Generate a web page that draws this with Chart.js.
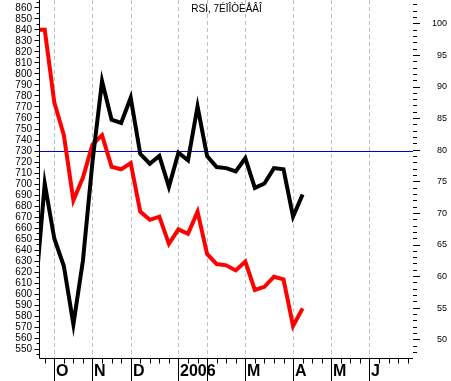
<!DOCTYPE html>
<html>
<head>
<meta charset="utf-8">
<script src="https://cdn.jsdelivr.net/npm/chart.js@4.4.1/dist/chart.umd.min.js"></script>
<style>
  html, body { margin: 0; padding: 0; background: #fff; }
</style>
</head>
<body>
<canvas id="rsiChart" width="451" height="381"></canvas>
<script>
const titleText = "RSI, 7ÉÏÎÒÈÅÂÎ";

// weekly bars, week 0 = first week of October
const weeks = [-2, -1, 0, 1, 2, 3, 4, 5, 6, 7, 8, 9, 10, 11, 12, 13, 14, 15, 16, 17, 18, 19, 20, 21, 22, 23, 24, 25, 26];
const priceValues = [598, 700, 650, 625, 572, 630, 720, 793, 758, 755, 778, 727, 718, 725, 697, 728, 721, 770, 725, 715, 714, 711, 723, 696, 700, 714, 713, 670, 690];
const rsiValues = [99, 99, 87.5, 82.3, 72, 75.6, 80.8, 82.3, 77.3, 76.9, 77.9, 70.2, 68.9, 69.4, 65.1, 67.4, 66.7, 70.2, 63.5, 61.9, 61.7, 60.9, 62.3, 57.8, 58.3, 59.9, 59.5, 52.1, 54.9];

const leftTickLabels = [550, 560, 570, 580, 590, 600, 610, 620, 630, 640, 650, 660, 670, 680, 690, 700, 710, 720, 730, 740, 750, 760, 770, 780, 790, 800, 810, 820, 830, 840, 850, 860];
const rightTickLabels = [50, 55, 60, 65, 70, 75, 80, 85, 90, 95, 100];
const monthStarts = [0, 4, 8, 13, 16, 20, 25, 29, 33];
const monthLabels = ["O", "N", "D", "2006", "", "M", "A", "M", "J"];
const refLevel = 730;

const axesPlugin = {
  id: "axesPlugin",
  beforeDatasetsDraw(chart) {
    const { ctx, chartArea: a, scales: { x, yL } } = chart;
    ctx.save();
    ctx.lineWidth = 1;
    ctx.strokeStyle = "#c0c0c0";
    ctx.setLineDash([4, 3]);
    monthStarts.forEach((m) => {
      const px = Math.round(x.getPixelForValue(m)) + 0.5;
      ctx.beginPath();
      ctx.moveTo(px, a.top);
      ctx.lineTo(px, a.bottom);
      ctx.stroke();
    });
    ctx.setLineDash([]);
    const ry = Math.round(yL.getPixelForValue(refLevel)) + 0.5;
    ctx.strokeStyle = "#0000cc";
    ctx.beginPath();
    ctx.moveTo(a.left, ry);
    ctx.lineTo(a.right, ry);
    ctx.stroke();
    ctx.restore();
  },
  afterDraw(chart) {
    const { ctx, chartArea: a, scales: { x, yL, yR } } = chart;
    const axisX = a.left - 0.5;
    const axisY = a.bottom + 0.5;
    ctx.save();
    ctx.lineWidth = 1;
    ctx.strokeStyle = "#000";
    ctx.fillStyle = "#000";

    // axis lines
    ctx.beginPath();
    ctx.moveTo(axisX, a.top);
    ctx.lineTo(axisX, axisY);
    ctx.lineTo(a.right, axisY);
    ctx.stroke();

    // left ticks + labels
    ctx.font = '10px "Liberation Sans", Arial, sans-serif';
    ctx.textAlign = "right";
    ctx.textBaseline = "middle";
    leftTickLabels.forEach((v) => {
      [v, v + 5].forEach((t) => {
        if (t > yL.max) return;
        const py = Math.round(yL.getPixelForValue(t)) + 0.5;
        const len = t % 10 === 0 ? 5 : 3;
        ctx.beginPath();
        ctx.moveTo(axisX - len, py);
        ctx.lineTo(axisX, py);
        ctx.stroke();
      });
      ctx.fillText(String(v), 32, yL.getPixelForValue(v) + 0.5);
    });
    const py545 = Math.round(yL.getPixelForValue(545)) + 0.5;
    ctx.beginPath();
    ctx.moveTo(axisX - 3, py545);
    ctx.lineTo(axisX, py545);
    ctx.stroke();

    // right ticks + labels
    for (let r = Math.ceil(yR.min); r <= Math.floor(yR.max); r++) {
      const py = Math.round(yR.getPixelForValue(r)) + 0.5;
      const len = r % 5 === 0 ? 7 : 4;
      ctx.beginPath();
      ctx.moveTo(a.right, py);
      ctx.lineTo(a.right + len, py);
      ctx.stroke();
    }
    ctx.font = '9px "Liberation Sans", Arial, sans-serif';
    rightTickLabels.forEach((r) => {
      ctx.fillText(String(r), 447, yR.getPixelForValue(r) + 0.5);
    });

    // week ticks
    for (let w = Math.ceil(x.min); w <= Math.floor(x.max); w++) {
      const px = Math.round(x.getPixelForValue(w)) + 0.5;
      ctx.beginPath();
      ctx.moveTo(px, axisY);
      ctx.lineTo(px, axisY + 5);
      ctx.stroke();
    }

    // month dividers + labels
    ctx.font = 'bold 16px "Liberation Sans", Arial, sans-serif';
    ctx.textAlign = "left";
    ctx.textBaseline = "alphabetic";
    monthStarts.forEach((m, i) => {
      const px = Math.round(x.getPixelForValue(m)) + 0.5;
      ctx.beginPath();
      ctx.moveTo(px, axisY);
      ctx.lineTo(px, chart.height);
      ctx.stroke();
      if (monthLabels[i]) ctx.fillText(monthLabels[i], px + 1.5, 376);
    });

    // title
    ctx.font = '10px "Liberation Sans", Arial, sans-serif';
    ctx.textAlign = "center";
    ctx.fillText(titleText, (a.left + a.right) / 2, 12);
    ctx.restore();
  },
};

const ctx = document.getElementById("rsiChart").getContext("2d");
new Chart(ctx, {
  type: "line",
  data: {
    datasets: [
      {
        label: "Price",
        data: weeks.map((w, i) => ({ x: w, y: priceValues[i] })),
        yAxisID: "yL",
        borderColor: "#000000",
        borderWidth: 4,
        pointRadius: 0,
        tension: 0,
        clip: 1,
        order: 0,
      },
      {
        label: "RSI",
        data: weeks.map((w, i) => ({ x: w, y: rsiValues[i] })),
        yAxisID: "yR",
        borderColor: "#ff0000",
        borderWidth: 4,
        pointRadius: 0,
        tension: 0,
        clip: 1,
        order: 1,
      },
    ],
  },
  options: {
    responsive: false,
    animation: false,
    devicePixelRatio: 1,
    layout: { padding: { left: 40, right: 38, top: 0, bottom: 23 } },
    plugins: { legend: { display: false }, tooltip: { enabled: false } },
    scales: {
      x: { type: "linear", display: false, min: -1.497, max: 37.56 },
      yL: { type: "linear", position: "left", display: false, min: 541.4, max: 866.8 },
      yR: { type: "linear", position: "right", display: false, min: 47.04, max: 103.69 },
    },
  },
  plugins: [axesPlugin],
});
</script>
</body>
</html>
